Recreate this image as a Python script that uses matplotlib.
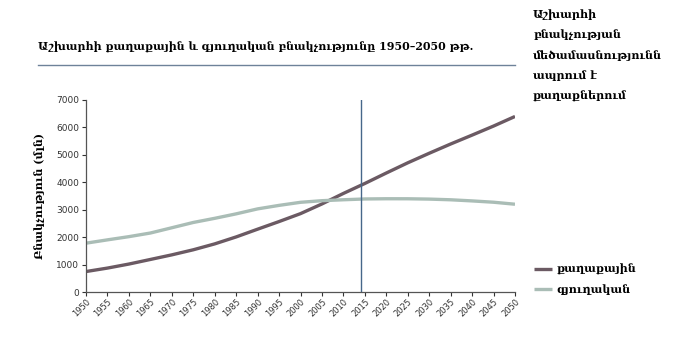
import matplotlib
matplotlib.use("Agg")
import matplotlib.pyplot as plt

years = list(range(1950, 2051, 5))
urban = [746, 872, 1019, 1186, 1354, 1539, 1754, 2008, 2290, 2568, 2857,
         3210, 3594, 3957, 4338, 4710, 5058, 5396, 5720, 6050, 6400]
rural = [1780, 1901, 2018, 2150, 2342, 2535, 2686, 2849, 3030, 3158, 3270,
         3329, 3363, 3392, 3400, 3399, 3387, 3362, 3321, 3273, 3200]
marker_year = 2014

title = "Աշխարհի քաղաքային և գյուղական բնակչությունը 1950–2050 թթ."
side_note = "Աշխարհի\nբնակչության\nմեծամասնությունն\nապրում է\nքաղաքներում"
ylabel = "Բնակչություն (մլն)"
series_names = ["քաղաքային", "գյուղական"]

serif = ["DejaVu Serif"]
urban_color = "#6b5a63"
rural_color = "#aabdb6"

fig = plt.figure(figsize=(6.86, 3.5), dpi=100)
ax = fig.add_axes([86 / 686, 1 - 292 / 350, (515 - 86) / 686, (292 - 100) / 350])

l1, = ax.plot(years, urban, color=urban_color, lw=2.4, solid_capstyle="butt")
l2, = ax.plot(years, rural, color=rural_color, lw=2.4, solid_capstyle="butt")
ax.axvline(marker_year, color="#46678a", lw=1.0)

ax.set_xlim(1950, 2050)
ax.set_ylim(0, 7000)
ax.set_xticks(years)
ax.set_xticklabels([str(y) for y in years], rotation=45, ha="right",
                   rotation_mode="anchor", fontsize=6)
ax.set_yticks(range(0, 7001, 1000))
ax.tick_params(axis="y", labelsize=6.5, length=3, width=0.8, colors="#333333", pad=2)
ax.tick_params(axis="x", length=3, width=0.8, colors="#333333", pad=1)
for s in ("top", "right"):
    ax.spines[s].set_visible(False)
for s in ("left", "bottom"):
    ax.spines[s].set_color("#555555")
    ax.spines[s].set_linewidth(0.9)

ax.set_ylabel(ylabel, family=serif, fontweight="bold", fontsize=8, labelpad=8)

fig.text(38 / 686, 1 - 47 / 350, title, family=serif, fontweight="bold",
         fontsize=7.9, va="center", ha="left")
fig.add_artist(plt.Line2D([38 / 686, 515 / 686], [1 - 65 / 350, 1 - 65 / 350],
                          color="#6e8299", lw=1.0))
fig.text(533 / 686, 1 - 9 / 350, side_note, family=serif, fontweight="bold",
         fontsize=8, va="top", ha="left", linespacing=2.05)

fig.legend([l1, l2], series_names, loc="upper left",
           bbox_to_anchor=(524 / 686, 1 - 254 / 350), frameon=False,
           prop={"family": serif, "weight": "bold", "size": 8},
           handlelength=1.6, handletextpad=0.4, labelspacing=0.8)

fig.savefig("out.png", dpi=100, facecolor="white")
